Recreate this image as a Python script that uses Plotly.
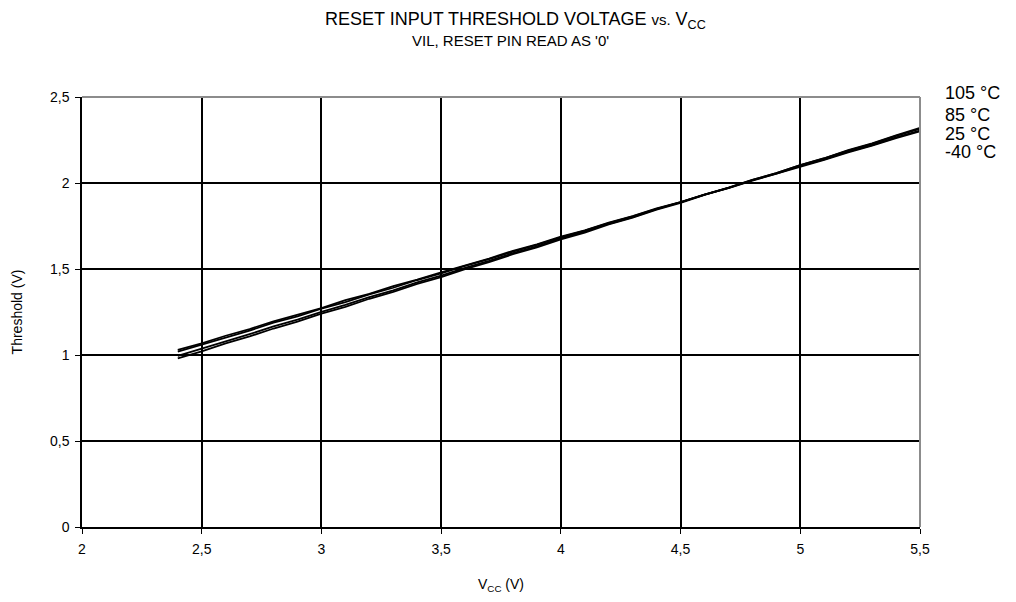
import plotly.graph_objects as go

vcc = [2.4, 2.5, 2.6, 2.7, 2.8, 2.9, 3.0, 3.1, 3.2, 3.3, 3.4, 3.5, 3.6, 3.7, 3.8, 3.9,
       4.0, 4.1, 4.2, 4.3, 4.4, 4.5, 4.6, 4.7, 4.8, 4.9, 5.0, 5.1, 5.2, 5.3, 5.4, 5.5]

t_m40 = [1.030, 1.068, 1.112, 1.151, 1.196, 1.233, 1.272, 1.319, 1.356, 1.401, 1.438, 1.481,
         1.520, 1.561, 1.606, 1.643, 1.688, 1.725, 1.770, 1.807, 1.852, 1.889, 1.932, 1.970,
         2.014, 2.053, 2.096, 2.135, 2.178, 2.217, 2.261, 2.301]
t_25 = [1.020, 1.061, 1.105, 1.142, 1.188, 1.225, 1.269, 1.308, 1.353, 1.391, 1.436, 1.474,
        1.518, 1.557, 1.601, 1.640, 1.684, 1.723, 1.767, 1.806, 1.850, 1.889, 1.933, 1.971,
        2.016, 2.054, 2.099, 2.137, 2.182, 2.220, 2.265, 2.305]
t_85 = [0.995, 1.036, 1.080, 1.121, 1.166, 1.206, 1.251, 1.291, 1.337, 1.376, 1.422, 1.462,
        1.507, 1.547, 1.592, 1.632, 1.678, 1.717, 1.763, 1.802, 1.848, 1.888, 1.933, 1.973,
        2.018, 2.058, 2.104, 2.143, 2.189, 2.228, 2.274, 2.315]
t_105 = [0.980, 1.021, 1.067, 1.108, 1.154, 1.194, 1.240, 1.280, 1.327, 1.367, 1.413, 1.453,
         1.499, 1.540, 1.586, 1.626, 1.672, 1.712, 1.759, 1.799, 1.845, 1.885, 1.931, 1.972,
         2.018, 2.058, 2.104, 2.144, 2.191, 2.231, 2.277, 2.320]

series = [("-40 °C", t_m40), ("25 °C", t_25), ("85 °C", t_85), ("105 °C", t_105)]
labels = ["105 °C", "85 °C", "25 °C", "-40 °C"]
label_pos = [1.009, 0.958, 0.914, 0.872]

FONT = "Liberation Sans, Arial, sans-serif"

fig = go.Figure()
for name, vals in series:
    fig.add_trace(go.Scatter(x=vcc, y=vals, mode="lines", name=name,
                             line=dict(color="black", width=1.8), showlegend=False))

for lab, yy in zip(labels, label_pos):
    fig.add_annotation(text=lab, xref="paper", yref="paper", x=1.027, y=yy,
                       xanchor="left", yanchor="middle", showarrow=False,
                       font=dict(family=FONT, size=18, color="black"))

fig.add_annotation(text="RESET INPUT THRESHOLD VOLTAGE <span style='font-size:15px'>vs.</span> V<sub>CC</sub>",
                   xref="paper", yref="paper", x=0.517, y=1.0, yshift=77,
                   xanchor="center", yanchor="middle", showarrow=False,
                   font=dict(family=FONT, size=18, color="black"))
fig.add_annotation(text="VIL, RESET PIN READ AS '0'",
                   xref="paper", yref="paper", x=0.511, y=1.0, yshift=57,
                   xanchor="center", yanchor="middle", showarrow=False,
                   font=dict(family=FONT, size=15, color="black"))

# grey top and right frame
fig.add_shape(type="line", xref="paper", yref="paper", x0=0, x1=1, y0=1, y1=1,
              line=dict(color="#8c8c8c", width=2), layer="above")
fig.add_shape(type="line", xref="paper", yref="paper", x0=1, x1=1, y0=0, y1=1,
              line=dict(color="#8c8c8c", width=2), layer="above")

fig.update_layout(
    width=1016, height=602,
    margin=dict(l=74, r=104, t=89, b=83),
    paper_bgcolor="white", plot_bgcolor="white",
    separators=",.",
    font=dict(family=FONT, size=14, color="black"),
    xaxis=dict(range=[2, 5.5], tickvals=[2, 2.5, 3, 3.5, 4, 4.5, 5, 5.5],
               ticktext=["2", "2,5", "3", "3,5", "4", "4,5", "5", "5,5"],
               showgrid=True, gridcolor="black", gridwidth=1.5,
               showline=True, linecolor="black", linewidth=1.5,
               ticks="outside", ticklen=5, tickcolor="black",
               ticklabelstandoff=3,
               zeroline=False, automargin=False,
               title=dict(text="V<sub>CC</sub> (V)", font=dict(size=14), standoff=24)),
    yaxis=dict(range=[0, 2.5], tickvals=[0, 0.5, 1, 1.5, 2, 2.5],
               ticktext=["0", "0,5", "1", "1,5", "2", "2,5"],
               showgrid=True, gridcolor="black", gridwidth=1.5,
               showline=True, linecolor="black", linewidth=1.5,
               ticks="outside", ticklen=5, tickcolor="black",
               ticklabelstandoff=3,
               zeroline=False, automargin=False,
               title=dict(text="Threshold (V)", font=dict(size=14), standoff=24)),
)

fig.write_html("out.html")
